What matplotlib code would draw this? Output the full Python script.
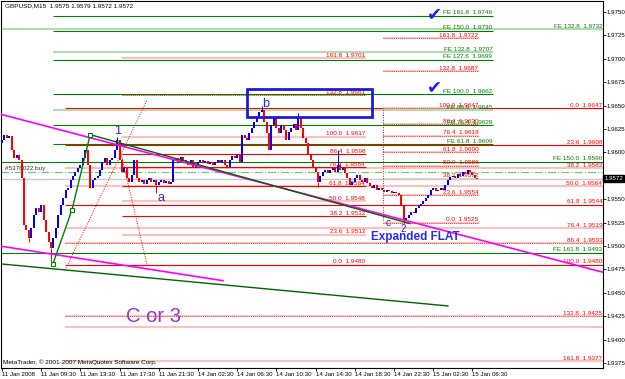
import matplotlib
matplotlib.use("Agg")
import matplotlib.pyplot as plt
import matplotlib.transforms as mtransforms

plt.rcParams["font.family"] = ["Liberation Sans", "DejaVu Sans"]

# ---- price data (GBPUSD M15 closes) ----
first_open = 1.9610
closes = [
    1.9613, 1.9619, 1.9615, 1.9618, 1.9603, 1.9594, 1.9597, 1.9592, 1.9573, 1.9522,
    1.9517, 1.9509, 1.9519, 1.9533, 1.9541, 1.9536, 1.9544, 1.9528, 1.9515, 1.9504,
    1.9498, 1.9509, 1.9519, 1.9533, 1.9544, 1.9551, 1.9560, 1.9562, 1.9571, 1.9575,
    1.9579, 1.9583, 1.9587, 1.9594, 1.9603, 1.9587, 1.9562, 1.9571, 1.9573, 1.9575,
    1.9581, 1.9590, 1.9594, 1.9587, 1.9592, 1.9594, 1.9603, 1.9613, 1.9592, 1.9579,
    1.9583, 1.9573, 1.9568, 1.9576, 1.9592, 1.9573, 1.9568, 1.9571, 1.9566, 1.9571,
    1.9573, 1.9568, 1.9571, 1.9565, 1.9568, 1.9571, 1.9567, 1.9569, 1.9566, 1.9568,
    1.9592, 1.9594, 1.9590, 1.9595, 1.9592, 1.9589, 1.9587, 1.9592, 1.9583, 1.9587,
    1.9590, 1.9592, 1.9589, 1.9591, 1.9588, 1.9590, 1.9587, 1.9590, 1.9592, 1.9589,
    1.9592, 1.9587, 1.9584, 1.9592, 1.9596, 1.9594, 1.9597, 1.9590, 1.9619, 1.9615,
    1.9613, 1.9621, 1.9626, 1.9632, 1.9638, 1.9643, 1.9645, 1.9632, 1.9621, 1.9603,
    1.9629, 1.9637, 1.9626, 1.9621, 1.9629, 1.9624, 1.9613, 1.9622, 1.9626, 1.9630,
    1.9624, 1.9637, 1.9626, 1.9615, 1.9610, 1.9597, 1.9592, 1.9583, 1.9579, 1.9568,
    1.9575, 1.9579, 1.9581, 1.9578, 1.9581, 1.9583, 1.9579, 1.9587, 1.9581, 1.9583,
    1.9578, 1.9573, 1.9565, 1.9568, 1.9573, 1.9576, 1.9571, 1.9568, 1.9573, 1.9567,
    1.9564, 1.9562, 1.9565, 1.9560, 1.9562, 1.9560, 1.9558, 1.9560, 1.9559, 1.9557,
    1.9558, 1.9557, 1.9555, 1.9544, 1.9528, 1.9530, 1.9533, 1.9536, 1.9535, 1.9541,
    1.9543, 1.9545, 1.9548, 1.9551, 1.9555, 1.9560, 1.9562, 1.9559, 1.9560, 1.9562,
    1.9560, 1.9565, 1.9571, 1.9574, 1.9575, 1.9573, 1.9577, 1.9575, 1.9579, 1.9577,
    1.9581, 1.9579, 1.9576, 1.9573, 1.9572,
]
wick_high = {47: 1.9616, 106: 1.9650, 121: 1.9642, 137: 1.9603}
wick_low = {11: 1.9504, 20: 1.9481, 63: 1.9557, 129: 1.9563, 164: 1.9525}

# ---- fibonacci tools ----
fib_levels = ["0.0", "23.6", "38.2", "50.0", "61.8", "76.4", "86.4", "100.0", "132.8", "161.8"]
fib_a_prices = [1.9525, 1.9554, 1.9572, 1.9586, 1.9600, 1.9618, 1.9630, 1.9647, 1.9687, 1.9722]
fib_a_bars = (155.5, 194.7)
fib_b_prices = [1.9647, 1.9608, 1.9583, 1.9564, 1.9544, 1.9519, 1.9503, 1.9480, 1.9425, 1.9377]
fib_b_bars = (25.7, 245.3)
fib_c_prices = [1.9480, 1.9512, 1.9532, 1.9548, 1.9564, 1.9584, 1.9598, 1.9617, 1.9661, 1.9701]
fib_c_bars = (49.0, 148.5)

fe_levels = ["161.8", "150.0", "132.8", "127.6", "100.0", "88.6", "76.4", "61.8"]
fe_prices = [1.9746, 1.9730, 1.9707, 1.9699, 1.9662, 1.9645, 1.9629, 1.9609]
fe_bars = (20.8, 200.4)

fe2_levels = ["132.8", "150.0", "161.8"]
fe2_prices = [1.9732, 1.9590, 1.9493]

extra_pink = 1.9414
order_price = 1.9579
bid_price = 1.9572

# trend lines: (bar0, price0, bar1, price1)
magenta_lines = [(-0.8, 1.9641, 245.3, 1.9472), (-0.8, 1.9500, 90.2, 1.9463)]
green_lines = [(36.0, 1.9619, 166.5, 1.9524), (-0.8, 1.9481, 182.0, 1.9436)]
wave_d1 = ([20.8, 28.6, 36.0], [1.9481, 1.9539, 1.9619])
fib_fan = [(25.7, 1.9474, 59.2, 1.9656), (47.3, 1.9613, 59.2, 1.9480)]
vert_dotted = (155.5, 1.9528, 1.9647)
box = (100.0, 1.9638, 151.0, 1.9668)

wave_labels = ["1", "a", "b", "c", "2"]
wave_bars = [47.0, 64.9, 107.8, 157.6, 163.7]
wave_prices = [1.9623, 1.9551, 1.9652, 1.9525, 1.9518]

price_ticks = [1.9375, 1.9400, 1.9425, 1.9450, 1.9475, 1.9500, 1.9525, 1.9550,
               1.9575, 1.9600, 1.9625, 1.9650, 1.9675, 1.9700, 1.9725, 1.9750]
tick_labels = ["11 Jan 2008", "11 Jan 09:30", "11 Jan 13:30", "11 Jan 17:30", "11 Jan 21:30",
               "14 Jan 02:30", "14 Jan 06:30", "14 Jan 10:30", "14 Jan 14:30", "14 Jan 18:30",
               "14 Jan 22:30", "15 Jan 02:30", "15 Jan 06:30"]

RED = "#ff0000"
PINK = "#ffc0c0"
GREEN = "#008000"
LGREEN = "#b0dcb0"
FS = 4.6

fig = plt.figure(figsize=(6.25, 3.79), dpi=100)
ax = fig.add_axes([0.0016, 11 / 379, 602 / 625, 367 / 379])
ax.set_xlim(-0.4, 245.3)
ax.set_ylim(1.93697, 1.97618)


def hline(price, x0, x1, style, color=RED, pale=PINK):
    if style == "s":
        ax.hlines(price, x0, x1, colors=color, lw=0.8, zorder=1)
    elif style == "p":
        ax.hlines(price, x0, x1, colors=pale, lw=1.5, zorder=1)
    else:
        ax.hlines(price, x0, x1, colors=pale, lw=1.3, zorder=1)
        ax.hlines(price, x0, x1, colors=color, lw=0.6, linestyles=(0, (1, 1.5)), zorder=1)


def label(x, price, text, color=RED):
    ax.text(x - 0.3, price + 0.00004, text, ha="right", va="bottom", fontsize=FS,
            color=color, zorder=2)


styles_b = ["s", "s", "p", "p", "s", "p", "d", "s", "d", "p"]
styles_c = ["s", "p", "s", "p", "s", "s", "s", "p", "d", "p"]
for lvl, p, st in zip(fib_levels, fib_b_prices, styles_b):
    hline(p, *fib_b_bars, st)
    label(fib_b_bars[1], p, f"{lvl}  {p:.4f}")
for lvl, p, st in zip(fib_levels, fib_c_prices, styles_c):
    hline(p, *fib_c_bars, st)
    label(fib_c_bars[1], p, f"{lvl}  {p:.4f}")
for lvl, p in zip(fib_levels, fib_a_prices):
    hline(p, *fib_a_bars, "d")
    label(fib_a_bars[1], p, f"{lvl}  {p:.4f}")

styles_fe = ["s", "s", "p", "s", "s", "p", "s", "s"]
for lvl, p, st in zip(fe_levels, fe_prices, styles_fe):
    hline(p, *fe_bars, st, color=GREEN, pale=LGREEN)
    label(fe_bars[1], p, f"FE {lvl}  {p:.4f}", color=GREEN)
styles_fe2 = ["p", "s", "s"]
for lvl, p, st in zip(fe2_levels, fe2_prices, styles_fe2):
    hline(p, -0.4, 245.3, st, color=GREEN, pale=LGREEN)
    label(245.3, p, f"FE {lvl}  {p:.4f}", color=GREEN)

hline(extra_pink, fib_b_bars[0], fib_b_bars[1], "p")
ax.axhline(order_price, color="#66cc66", lw=0.8, ls=(0, (7, 2, 1, 2)), zorder=1)
ax.axhline(bid_price, color="#c8c8c8", lw=1.0, zorder=1)
ax.text(1.2, order_price + 0.0001, "#5376022 buy", fontsize=FS, color="#333333",
        va="bottom", ha="left", zorder=2)

# trend lines
for x0, y0, x1, y1 in magenta_lines:
    ax.plot([x0, x1], [y0, y1], color="#ff00ff", lw=1.2, zorder=4)
for x0, y0, x1, y1 in green_lines:
    ax.plot([x0, x1], [y0, y1], color="#006400", lw=1.0, zorder=4)
ax.plot(wave_d1[0], wave_d1[1], color="#008000", lw=1.0, zorder=4)
ax.plot(wave_d1[0], wave_d1[1], ls="none", marker="s", ms=3, mfc="white", mec="#008000",
        mew=0.8, zorder=5)
for x0, y0, x1, y1 in fib_fan:
    ax.plot([x0, x1], [y0, y1], color=RED, lw=0.7, ls=(0, (1, 1.5)), zorder=2)
ax.vlines(vert_dotted[0], vert_dotted[1], vert_dotted[2], colors=RED, lw=0.7,
          linestyles=(0, (1, 1.5)), zorder=2)
ax.add_patch(plt.Rectangle((box[0], box[1]), box[2] - box[0], box[3] - box[1],
                           fill=False, ec="#1c1cd8", lw=2.0, zorder=5))

# candles
opens = [first_open] + closes[:-1]
for i, (o, c) in enumerate(zip(opens, closes)):
    col = "#0000ff" if c > o else RED
    if abs(c - o) < 1e-6:
        ax.hlines(c, i - 0.45, i + 0.45, colors=col, lw=0.8, zorder=3)
    else:
        ax.vlines(i, o, c, colors=col, lw=1.45, zorder=3)
    if i in wick_high:
        ax.vlines(i, max(o, c), wick_high[i], colors=col, lw=0.7, zorder=3)
    if i in wick_low:
        ax.vlines(i, wick_low[i], min(o, c), colors=col, lw=0.7, zorder=3)

# wave annotations
for t, x, y in zip(wave_labels, wave_bars, wave_prices):
    fs = 7 if t in ("c", "2") else 9
    ax.text(x, y, t, fontsize=fs, color="#2a2ad0", ha="center", va="center", zorder=6)
ax.text(168.6, 1.9510, "Expanded FLAT", fontsize=8.5, color="#2a2aff", weight="bold",
        ha="center", va="center", zorder=6)
ax.text(62.0, 1.9425, "C or 3", fontsize=14.5, color="#9933cc", ha="center", va="center",
        zorder=6)
for y in (1.9748, 1.9670):
    ax.text(176.7, y, "\u2714", fontsize=13, color="#1c1cff", ha="center", va="center",
            family="DejaVu Sans", zorder=6)

# header / footer
ax.text(0.006, 0.995, "GBPUSD,M15  1.9575 1.9579 1.9572 1.9572", transform=ax.transAxes,
        fontsize=FS, va="top", ha="left", color="black")
ax.text(0.004, 0.008, "MetaTrader, \u00a9 2001-2007 MetaQuotes Software Corp.",
        transform=ax.transAxes, fontsize=FS, va="bottom", ha="left", color="black")

# axes styling; the 1.9575 label sits under the bid price box in the original
ax.yaxis.tick_right()
ax.set_yticks(price_ticks)
ax.set_yticklabels(["" if abs(v - bid_price) < 0.0005 else f"{v:.4f}" for v in price_ticks])
ax.set_xticks([16 * k for k in range(len(tick_labels))])
ax.set_xticklabels(tick_labels, ha="left")
ax.tick_params(axis="both", labelsize=4.4, length=2, width=0.6, pad=0.8, colors="black")
for s in ax.spines.values():
    s.set_linewidth(0.8)
trans = mtransforms.blended_transform_factory(ax.transAxes, ax.transData)
ax.text(1.002, bid_price, "1.9572", transform=trans, fontsize=4.4, color="white", va="center",
        ha="left", bbox=dict(boxstyle="square,pad=0.12", fc="black", ec="black"), clip_on=False)

fig.savefig("out.png", dpi=100, facecolor="white")
